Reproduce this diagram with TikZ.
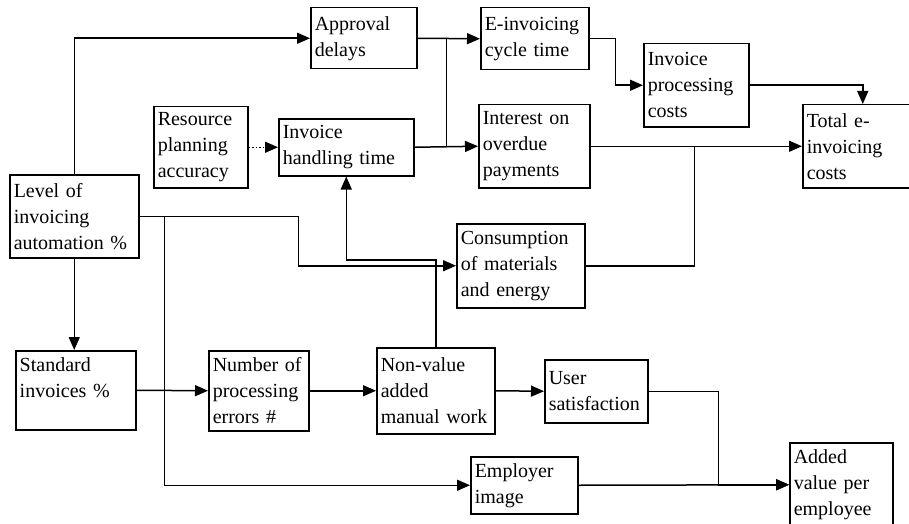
\documentclass[tikz,border=0pt]{standalone}
\usepackage{fontspec}
\setmainfont{Liberation Serif}
\usetikzlibrary{arrows.meta}

\begin{document}
\begin{tikzpicture}[x=1pt, y=-1pt, line width=1.5pt,
	box/.style 2 args={draw, anchor=north west, align=left, inner xsep=4pt, inner ysep=0pt,
		text width=#1, minimum height=#2, font=\fontsize{20}{26}\selectfont},
	arr/.style={-{Triangle[length=13pt,width=11pt]}}]
	\useasboundingbox (0,0) rectangle (909,524);
	% top row
	\node[box={98pt}{61pt}] (appr) at (310,7) {Approval\\delays};
	\node[box={100pt}{62pt}] (ecyc) at (480,7) {E-invoicing\\cycle time};
	\node[box={97pt}{83pt}] (proc) at (643,43) {Invoice\\processing\\costs};
	\node[box={112pt}{83pt}] (tot) at (802,104) {Total e-\\invoicing\\costs};
	\node[box={103pt}{83pt}] (intr) at (478,104) {Interest on\\overdue\\payments};
	\node[box={86pt}{81pt}] (res) at (153,106) {Resource\\planning\\accuracy};
	\node[box={127pt}{57pt}] (hand) at (278,118) {Invoice\\handling time};
	% middle
	\node[box={121pt}{83pt}] (lvl) at (9,174) {Level of\\invoicing\\automation \%};
	\node[box={120pt}{84pt}] (cons) at (456,223) {Consumption\\of materials\\and energy};
	% bottom rows
	\node[box={112pt}{79pt}] (std) at (15,350) {Standard\\invoices \%\\~};
	\node[box={92pt}{80pt}] (nerr) at (208,350) {Number of\\processing\\errors \#};
	\node[box={110pt}{86pt}] (nva) at (376,347) {Non-value\\added\\manual work};
	\node[box={95pt}{63pt}] (usat) at (544,359) {User\\satisfaction};
	\node[box={99pt}{57pt}] (empl) at (470,456) {Employer\\image};
	\node[box={95pt}{84pt}] (addv) at (789,442) {Added\\value per\\employee};

	% connectors
	\draw[arr] (lvl.north) |- (appr.west);
	\draw[arr, dotted] (res.east) -- (hand.west);
	\draw[arr] (appr.east) -- (ecyc.west);
	\draw[arr] (hand.east) -- (intr.west);
	\draw (appr.east) ++(29,0) coordinate (j1) -- (j1 |- hand.east);
	\draw[arr] (ecyc.east) -- ++(26,0) |- (proc.west);
	\draw[arr] (proc.east) -| (tot.north);
	\draw[arr] (intr.east) -- (tot.west);
	\draw (cons.east) -- ++(109,0) coordinate (c1) -- (c1 |- intr.east);
	\draw[arr] (lvl.east) -- ++(159,0) |- (cons.west);
	\draw[arr] (lvl.east) ++(25,0) |- (empl.west);
	\draw[arr] (lvl.south) -- (lvl.south |- std.north);
	\draw[arr] (std.east) -- (nerr.west);
	\draw[arr] (nerr.east) -- (nva.west);
	\draw[arr] (nva.east) -- (usat.west);
	\draw[arr] (nva.north) -- ++(0,-87) -| (hand.south);
	\draw[arr] (usat.east) -- ++(70,0) |- (addv.west);
	\draw[arr] (empl.east) -- (addv.west);
\end{tikzpicture}
\end{document}
